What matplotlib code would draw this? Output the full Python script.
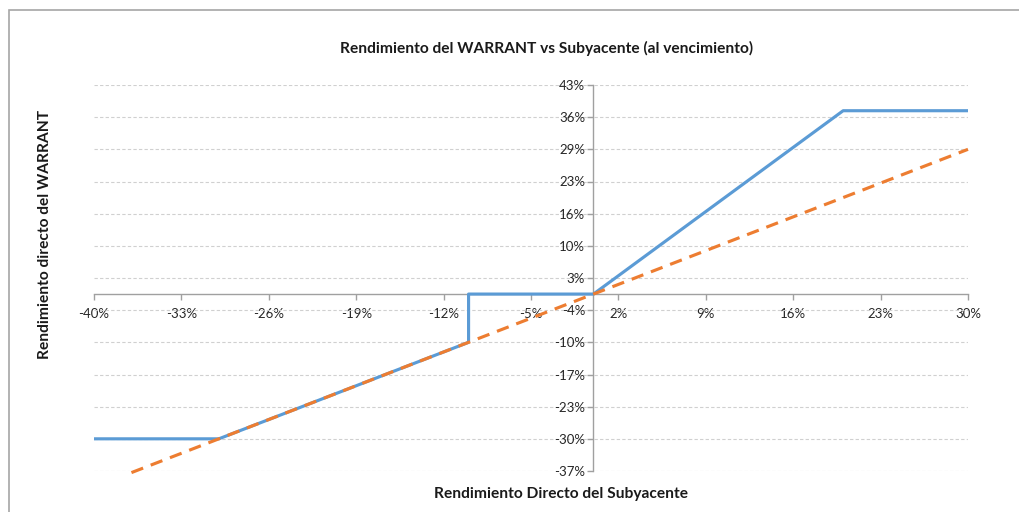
import numpy as np
import matplotlib
matplotlib.use('Agg')
import matplotlib.pyplot as plt

# rendimiento del subyacente (%) y del warrant (%)
subyacente = [-40, -30, -10, -10, 0, 20, 30]
warrant = [-30, -30, -10, 0, 0, 38, 38]
# linea de referencia: subyacente contra si mismo
ref_x = [-37, 30]
ref_y = [-37, 30]

x_ticks = [-40, -33, -26, -19, -12, -5, 2, 9, 16, 23, 30]
x_labels = ['-40%', '-33%', '-26%', '-19%', '-12%', '-5%', '2%', '9%', '16%', '23%', '30%']
y_ticks = [-36.67, -30, -23.33, -16.67, -10, -3.33, 3.33, 10, 16.67, 23.33, 30, 36.67, 43.33]
y_labels = ['-37%', '-30%', '-23%', '-17%', '-10%', '-4%', '3%', '10%', '16%', '23%', '29%', '36%', '43%']

plt.rcParams['font.family'] = ['Lato', 'DejaVu Sans']

fig = plt.figure(figsize=(10.2, 5.12), dpi=100)
ax = fig.add_axes([94 / 1020, 1 - 471 / 512, (968 - 94) / 1020, (471 - 85) / 512])

# borde del area del grafico
fig.patches.append(plt.Rectangle((9 / 1020, -0.1), 1.2, 1 - 10 / 512 + 0.1, transform=fig.transFigure,
                                 fill=False, edgecolor='#A6A6A6', linewidth=1.2))

ax.plot(subyacente, warrant, color='#5B9BD5', linewidth=2.25, zorder=3)
ax.plot(ref_x, ref_y, color='#ED7D31', linewidth=2.25, dashes=(4, 2.6), zorder=4, clip_on=False)

ax.set_xlim(-40, 30)
ax.set_ylim(y_ticks[0], y_ticks[-1])
ax.set_xticks(x_ticks)
ax.set_xticklabels(x_labels)
ax.set_yticks(y_ticks)
ax.set_yticklabels(y_labels)

ax.spines['top'].set_visible(False)
ax.spines['right'].set_visible(False)
ax.spines['left'].set_position(('data', 0))
ax.spines['bottom'].set_position(('data', 0))
for s in ['left', 'bottom']:
    ax.spines[s].set_color('#A0A0A0')
    ax.spines[s].set_linewidth(1)

ax.tick_params(axis='both', colors='#A0A0A0', labelcolor='#262626', labelsize=9.5, length=4, width=1)
ax.tick_params(axis='x', pad=6)
ax.tick_params(axis='y', pad=2)

ax.grid(axis='y', color='#D0D0D0', linestyle=(0, (3, 2)), linewidth=0.8)
ax.set_axisbelow(True)

fig.text(547 / 1020, 1 - 48 / 512, 'Rendimiento del WARRANT vs Subyacente (al vencimiento)',
         ha='center', va='center', fontsize=11.2, fontweight='bold', color='#1a1a1a')
fig.text(561 / 1020, 1 - 494 / 512, 'Rendimiento Directo del Subyacente',
         ha='center', va='center', fontsize=11.2, fontweight='bold', color='#1a1a1a')
fig.text(45 / 1020, 1 - 234 / 512, 'Rendimiento directo del WARRANT', rotation=90,
         ha='center', va='center', fontsize=11.2, fontweight='bold', color='#1a1a1a')

fig.savefig('out.png', dpi=100)
